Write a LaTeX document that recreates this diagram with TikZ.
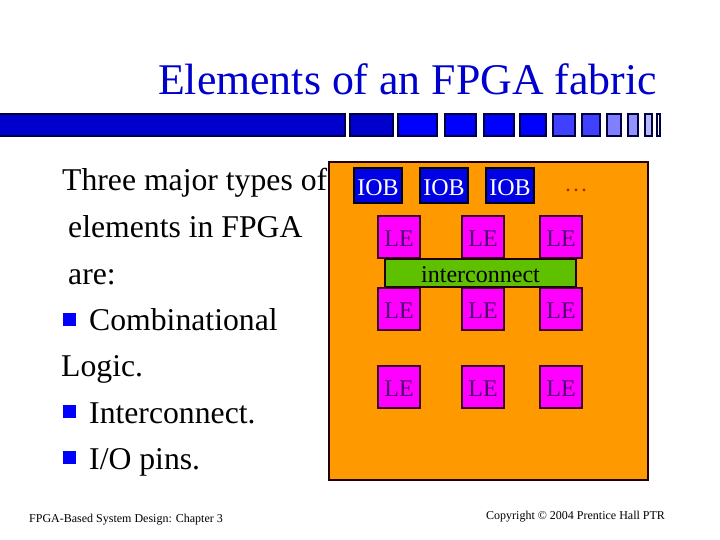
\documentclass[tikz,border=0pt]{standalone}
\usepackage{fontspec}
\setmainfont{Liberation Serif}
\definecolor{barA}{HTML}{0000CC}
\definecolor{barB}{HTML}{0000FF}
\definecolor{barC}{HTML}{4040FF}
\definecolor{barD}{HTML}{8080FF}
\definecolor{barE}{HTML}{B8B8FF}
\definecolor{edgeN}{HTML}{000040}
\definecolor{orangeF}{HTML}{FF9900}
\definecolor{edgeO}{HTML}{200000}
\definecolor{magF}{HTML}{FF00FF}
\definecolor{edgeM}{HTML}{400030}
\definecolor{greenF}{HTML}{5FC000}
\definecolor{textM}{HTML}{500070}
\definecolor{titleB}{HTML}{0000CC}
\definecolor{dotsC}{HTML}{B03000}
\tikzset{
  x=1pt,y=-1pt,
  barbox/.style={draw=edgeN,line width=2pt},
  iobbox/.style={draw=black,line width=2pt,fill=barB!90!black,text=white,font=\fontsize{24}{24}\selectfont,inner sep=0pt,minimum width=47.5pt,minimum height=35pt,text height=19.5pt,text depth=0pt},
  lebox/.style={draw=edgeM,line width=1.7pt,fill=magF,text=textM,font=\fontsize{24}{24}\selectfont,inner sep=0pt,minimum width=41.5pt,minimum height=41.5pt,text height=19.5pt,text depth=0pt},
  icbox/.style={draw=edgeO,line width=1.7pt,fill=greenF,text=black,font=\fontsize{24}{24}\selectfont,inner sep=0pt,minimum width=191.5pt,minimum height=28.5pt,text height=19.5pt,text depth=0pt},
  bodytxt/.style={anchor=base west,inner sep=0pt,font=\fontsize{31.7}{32}\selectfont},
  bullet/.style={fill=blue,draw=none,minimum size=13pt,inner sep=0pt},
  smalltxt/.style={anchor=base west,inner sep=0pt}
}
\begin{document}
\begin{tikzpicture}
\useasboundingbox (0,0) rectangle (720,540);
\fill[white] (0,0) rectangle (720,540);
\node[anchor=base east,inner sep=0pt,text=titleB,font=\fontsize{43.8}{44}\selectfont] (title) at (657,95) {Elements of an FPGA fabric};
\draw[barbox,fill=barA] (-3,114) rectangle (345,136);
\draw[barbox,fill=barA] (349.5,114) rectangle (392.5,136);
\draw[barbox,fill=barB] (398,114) rectangle (437,136);
\draw[barbox,fill=barB] (444.5,114) rectangle (476,136);
\draw[barbox,fill=barB] (484,114) rectangle (514,136);
\draw[barbox,fill=barB] (520,114) rectangle (546,136);
\draw[barbox,fill=barC] (553,114) rectangle (575,136);
\draw[barbox,fill=barC] (581.5,114) rectangle (600,136);
\draw[barbox,fill=barD] (607,114) rectangle (620.5,136);
\draw[barbox,fill=barD!85!white] (627.5,114) rectangle (637.5,136);
\draw[barbox,fill=barE] (644.5,114) rectangle (651.5,136);
\draw[barbox,fill=white] (656.5,114) rectangle (660,136);
\node[bodytxt] (t1) at (62,191) {Three major types of};
\node[bodytxt] (t2) at (68,237) {elements in FPGA};
\node[bodytxt] (t3) at (68,284) {are:};
\node[bullet] (b1) at (69.7,319.7) {};
\node[bodytxt] (t4) at (89,330) {Combinational};
\node[bodytxt] (t5) at (61,376) {Logic.};
\node[bullet] (b2) at (69.7,411.7) {};
\node[bodytxt] (t6) at (89,423) {Interconnect.};
\node[bullet] (b3) at (69.7,457.5) {};
\node[bodytxt] (t7) at (89,469) {I/O pins.};
\node[smalltxt,font=\fontsize{12}{12}\selectfont] (foot) at (29,522) {FPGA-Based System Design: Chapter 3};
\node[smalltxt,font=\fontsize{12}{12}\selectfont] (copy) at (486,519) {Copyright © 2004 Prentice Hall PTR};
\draw[draw=edgeO,line width=2pt,fill=orangeF] (329,162.5) rectangle (648,480);
\node[iobbox] (i1) at (378,186) {IOB};
\node[iobbox] (i2) at (444,186) {IOB};
\node[iobbox] (i3) at (510,186) {IOB};
\node[text=dotsC,font=\fontsize{24}{24}\selectfont,inner sep=0pt,anchor=base] (dots) at (576,192) {…};
\node[lebox] (l1) at (399,237) {LE};
\node[lebox] (l2) at (483,237) {LE};
\node[lebox] (l3) at (561,237) {LE};
\node[lebox] (l4) at (399,309) {LE};
\node[lebox] (l5) at (483,309) {LE};
\node[lebox] (l6) at (561,309) {LE};
\node[lebox] (l7) at (399,387) {LE};
\node[lebox] (l8) at (483,387) {LE};
\node[lebox] (l9) at (561,387) {LE};
\node[icbox] (ic) at (480.5,273) {interconnect};
\end{tikzpicture}
\end{document}
